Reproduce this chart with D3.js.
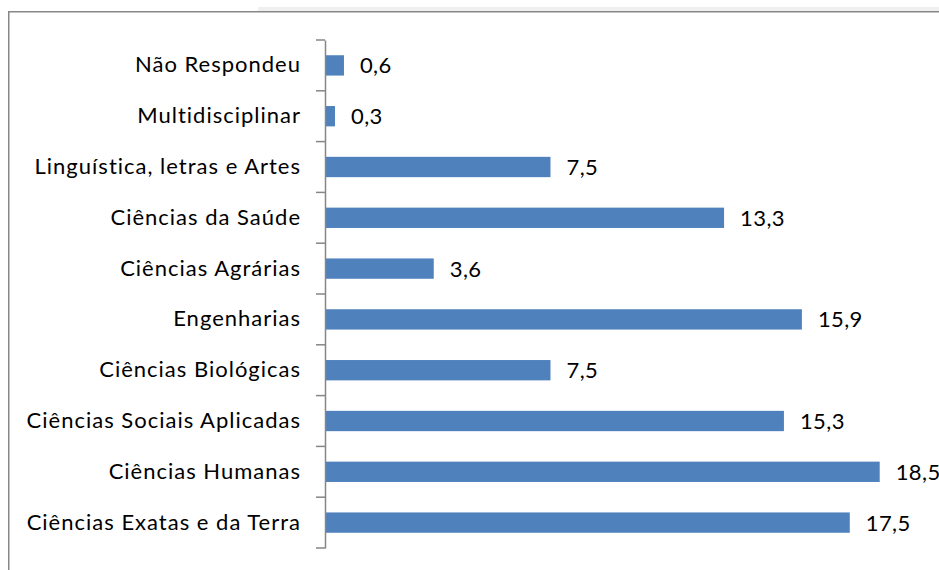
<!doctype html>
<meta charset="utf-8">
<title>Áreas</title>
<script src="https://cdn.jsdelivr.net/npm/d3@7/dist/d3.min.js"></script>
<style>
  body { margin: 0; background: #fff; }
  text { font-family: Lato, "Open Sans", sans-serif; }
</style>
<body>
<script>

var categories = ['Não Respondeu', 'Multidisciplinar', 'Linguística, letras e Artes',
  'Ciências da Saúde', 'Ciências Agrárias', 'Engenharias', 'Ciências Biológicas',
  'Ciências Sociais Aplicadas', 'Ciências Humanas', 'Ciências Exatas e da Terra'];
var values = [0.6, 0.3, 7.5, 13.3, 3.6, 15.9, 7.5, 15.3, 18.5, 17.5];
var labels = ['0,6', '0,3', '7,5', '13,3', '3,6', '15,9', '7,5', '15,3', '18,5', '17,5'];

var width = 939, height = 570
  , axisX = 325
  , plotTop = 40, plotBottom = 548;

var svg = d3.select('body').append('svg')
  .attr('width', width)
  .attr('height', height);

// outer frame (only top and left are visible)
svg.append('rect')
  .attr('x', 258).attr('y', 7).attr('width', width - 258).attr('height', 4)
  .style('fill', '#f0f0f0');
svg.append('path')
  .attr('d', 'M8.75,' + height + 'V11.75H' + width)
  .style('fill', 'none')
  .style('stroke', '#878787')
  .style('stroke-width', 1.5);

var y = d3.scaleBand().domain(categories).range([plotTop, plotBottom]).paddingInner(0.6).paddingOuter(0.3);
var x = d3.scaleLinear().domain([0, 20]).range([axisX + 1, axisX + 1 + 20 * 29.93]);

svg.selectAll('rect.bar')
  .data(values)
  .enter().append('rect')
  .classed('bar', true)
  .attr('x', x(0))
  .attr('y', function(d, i) { return y(categories[i]) })
  .attr('width', function(d) { return x(d) - x(0) })
  .attr('height', y.bandwidth())
  .style('fill', '#4f81bd');

svg.selectAll('text.val')
  .data(values)
  .enter().append('text')
  .classed('val', true)
  .attr('x', function(d) { return x(d) + 16 })
  .attr('y', function(d, i) { return y(categories[i]) + y.bandwidth() / 2 })
  .attr('dy', '0.36em')
  .style('font-size', '22px')
  .style('letter-spacing', '0.4px')
  .style('fill', '#000')
  .text(function(d, i) { return labels[i] });

var yAxis = svg.append('g')
  .attr('transform', 'translate(' + axisX + ',0)')
  .call(d3.axisLeft(y).tickSize(0).tickPadding(24));
yAxis.select('.domain').style('stroke', '#868686').style('stroke-width', 1.5);
yAxis.selectAll('.tick text')
  .style('font-size', '22px')
  .style('letter-spacing', '1px')
  .style('fill', '#000')
  .style('font-family', 'Lato, sans-serif');

// tick marks sit on the category boundaries
var step = (plotBottom - plotTop) / categories.length;
svg.selectAll('line.tk')
  .data(d3.range(categories.length + 1))
  .enter().append('line')
  .classed('tk', true)
  .attr('x1', axisX - 9).attr('x2', axisX)
  .attr('y1', function(i) { return plotTop + i * step })
  .attr('y2', function(i) { return plotTop + i * step })
  .style('stroke', '#868686')
  .style('stroke-width', 1.5);

</script>
</body>
